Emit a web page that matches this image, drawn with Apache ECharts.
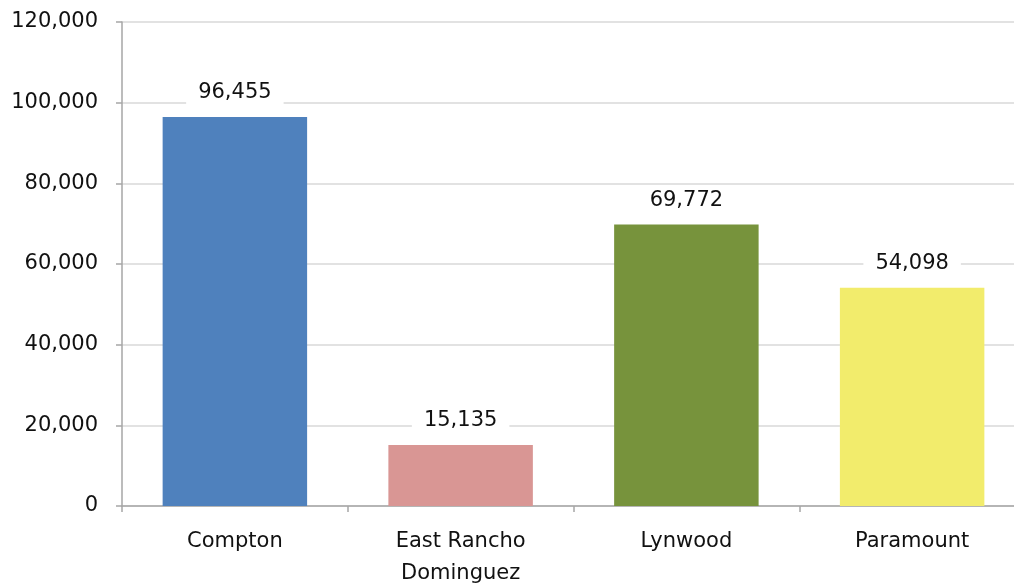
<!DOCTYPE html>
<html><head><meta charset="utf-8">
<script src="https://cdn.jsdelivr.net/npm/echarts@6/dist/echarts.min.js"></script>
<style>html,body{margin:0;padding:0;background:#fff}#c{width:1014px;height:584px}</style>
</head><body><div id="c"></div>
<script>
const categories = ['Compton', 'East Rancho\nDominguez', 'Lynwood', 'Paramount'];
const values = [96455, 15135, 69772, 54098];
const barColors = ['#4F81BD', '#D99694', '#77933C', '#F2EC6C'];
const yMin = 0, yMax = 120000, yStep = 20000;

const FONT = 'DejaVu Sans';
const fmt = v => v.toLocaleString('en-US');
const chart = echarts.init(document.getElementById('c'));
chart.setOption({
  animation: false,
  textStyle: { fontFamily: FONT },
  grid: { left: 122, right: -11, top: 22, bottom: 78, containLabel: false, outerBoundsMode: 'none' },
  xAxis: {
    type: 'category', data: categories,
    axisLine: { lineStyle: { color: '#A6A6A6', width: 1.5 } },
    axisTick: { show: true, length: 6, lineStyle: { color: '#A6A6A6', width: 1.5 } },
    axisLabel: { color: '#111', fontSize: 21, margin: 20, lineHeight: 32, fontFamily: FONT }
  },
  yAxis: {
    type: 'value', min: yMin, max: yMax, interval: yStep,
    axisLine: { show: true, lineStyle: { color: '#A6A6A6', width: 1.5 } },
    axisTick: { show: true, length: 6, lineStyle: { color: '#A6A6A6', width: 1.5 } },
    splitLine: { lineStyle: { color: '#D9D9D9', width: 1.5 } },
    axisLabel: { color: '#111', fontSize: 21, margin: 24, formatter: fmt, fontFamily: FONT }
  },
  series: [{
    type: 'bar', barWidth: '64%',
    data: values.map((v, i) => ({ value: v, itemStyle: { color: barColors[i] } })),
    label: {
      show: true, position: 'top', distance: 12, formatter: p => fmt(p.value),
      color: '#111', fontSize: 21, fontFamily: FONT,
      backgroundColor: '#fff', padding: [2, 12]
    }
  }]
});
</script></body></html>
